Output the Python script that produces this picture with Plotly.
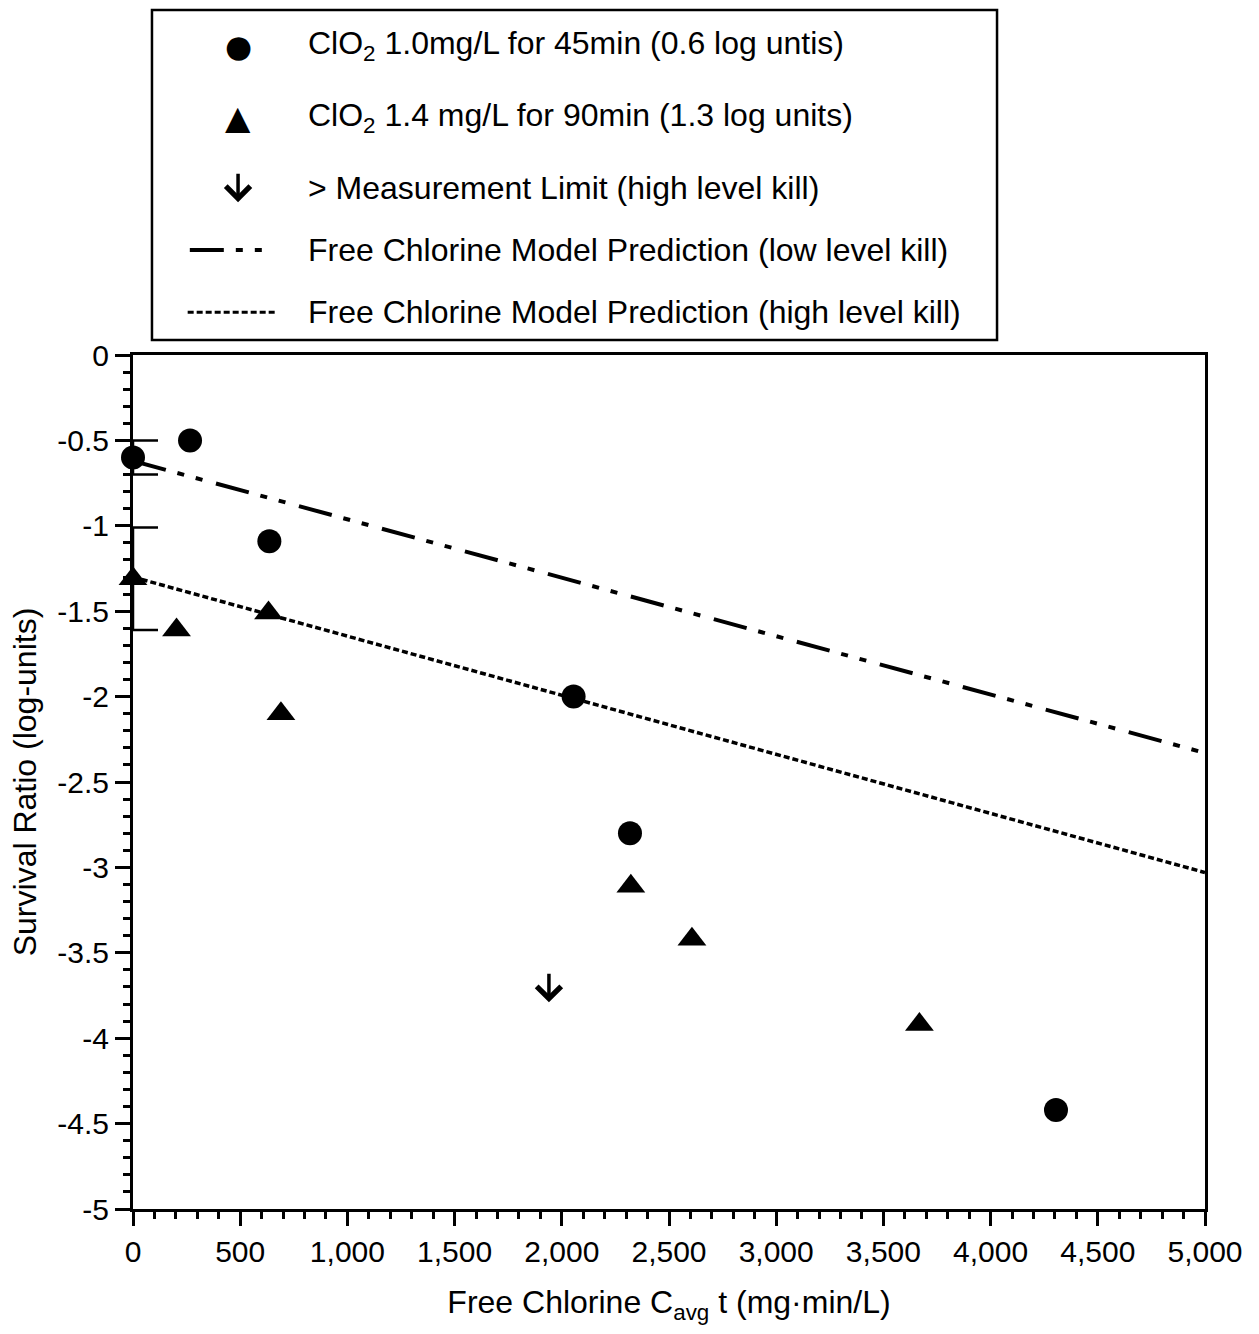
import plotly.graph_objects as go

# ---- data -----------------------------------------------------------------
# ClO2 1.0 mg/L for 45 min (0.6 log units)
clo2_a_ct = [0, 266, 636, 2055, 2318, 4305]
clo2_a_log = [-0.6, -0.5, -1.09, -2.0, -2.8, -4.42]
clo2_a_start_err = 0.1   # spread of the starting (x = 0) value

# ClO2 1.4 mg/L for 90 min (1.3 log units)
clo2_b_ct = [0, 203, 632, 690, 2322, 2607, 3668]
clo2_b_log = [-1.31, -1.61, -1.51, -2.1, -3.11, -3.42, -3.92]
clo2_b_start_err = 0.3

# beyond the measurement limit (high level kill): arrow tip
limit_ct = [1940]
limit_log = [-3.79]

# free chlorine model predictions
low_kill_ct = [0, 5000]
low_kill_log = [-0.62, -2.33]
high_kill_ct = [0, 5000]
high_kill_log = [-1.3, -3.03]

# axis ticks
x_tickvals = [0, 500, 1000, 1500, 2000, 2500, 3000, 3500, 4000, 4500, 5000]
x_ticktext = ["0", "500", "1,000", "1,500", "2,000", "2,500", "3,000",
              "3,500", "4,000", "4,500", "5,000"]
y_tickvals = [0, -0.5, -1, -1.5, -2, -2.5, -3, -3.5, -4, -4.5, -5]
y_ticktext = ["0", "-0.5", "-1", "-1.5", "-2", "-2.5", "-3", "-3.5", "-4",
              "-4.5", "-5"]

# legend labels
legend_labels = [
    "ClO<sub>2</sub> 1.0mg/L for 45min (0.6 log untis)",
    "ClO<sub>2</sub> 1.4 mg/L for 90min (1.3 log units)",
    "> Measurement Limit (high level kill)",
    "Free Chlorine Model Prediction (low level kill)",
    "Free Chlorine Model Prediction (high level kill)",
]

FONT = "Liberation Sans, Arial, sans-serif"
DASHDOT = "34px,12px,7px,12px,7px,14px"
DOTTED = "6px,3px"

fig = go.Figure()

# model prediction lines
fig.add_trace(go.Scatter(
    x=low_kill_ct, y=low_kill_log, mode="lines",
    line=dict(color="black", width=4, dash=DASHDOT),
    showlegend=False, cliponaxis=False))
fig.add_trace(go.Scatter(
    x=high_kill_ct, y=high_kill_log, mode="lines",
    line=dict(color="black", width=3.5, dash=DOTTED),
    showlegend=False, cliponaxis=False))

# spread of the two starting values (drawn along the y axis)
for ct, lg, err in [(clo2_a_ct[0], clo2_a_log[0], clo2_a_start_err),
                    (clo2_b_ct[0], clo2_b_log[0], clo2_b_start_err)]:
    fig.add_trace(go.Scatter(
        x=[ct], y=[lg], mode="markers",
        marker=dict(size=1, color="rgba(0,0,0,0)"),
        error_y=dict(type="data", array=[err], symmetric=True,
                     color="black", thickness=2.5, width=25),
        showlegend=False, cliponaxis=False, hoverinfo="skip"))

# measured survival ratios
fig.add_trace(go.Scatter(
    x=clo2_a_ct, y=clo2_a_log, mode="markers",
    marker=dict(symbol="circle", size=24, color="black"),
    showlegend=False, cliponaxis=False))
fig.add_trace(go.Scatter(
    x=clo2_b_ct, y=clo2_b_log, mode="markers",
    marker=dict(symbol="triangle-up", size=25, color="black"),
    showlegend=False, cliponaxis=False))

ARROW = dict(showarrow=True, arrowhead=4, arrowsize=1.35, arrowwidth=3.5,
             arrowcolor="black", ax=0, ay=-30, text="")

annotations = []
# measurement-limit arrows on the data scale
for ct, lg in zip(limit_ct, limit_log):
    annotations.append(dict(x=ct, y=lg, xref="x", yref="y", **ARROW))

# ---- legend box (paper coordinates over the plot area) ---------------------
row_y = [1.362, 1.278, 1.196, 1.123, 1.050]
key_x = 0.098
label_x = 0.161

shapes = [
    dict(type="rect", xref="paper", yref="paper",
         x0=0.0177, x1=0.806, y0=1.0176, y1=1.404,
         line=dict(color="black", width=2.5), fillcolor="white", layer="below"),
    dict(type="line", xref="paper", yref="paper",
         x0=0.053, x1=0.121, y0=row_y[3], y1=row_y[3],
         line=dict(color="black", width=4, dash=DASHDOT)),
    dict(type="line", xref="paper", yref="paper",
         x0=0.051, x1=0.134, y0=row_y[4], y1=row_y[4],
         line=dict(color="black", width=3, dash=DOTTED)),
]

for glyph, yv, size in zip(["●", "▲"], row_y[:2], [31, 33]):
    annotations.append(dict(
        x=key_x, y=yv, xref="paper", yref="paper", text=glyph,
        showarrow=False, xanchor="center", yanchor="middle",
        font=dict(family="DejaVu Sans", size=size, color="black")))
annotations.append(dict(x=key_x, y=row_y[2] - 0.017, xref="paper",
                        yref="paper", **ARROW))
for label, yv in zip(legend_labels, row_y):
    annotations.append(dict(
        x=label_x, y=yv, xref="paper", yref="paper", text=label,
        showarrow=False, xanchor="left", yanchor="middle",
        font=dict(family=FONT, size=32, color="black")))

axis_common = dict(
    showline=True, linecolor="black", linewidth=3, mirror=True,
    ticks="outside", tickcolor="black", tickwidth=3,
    showgrid=False, zeroline=False,
    tickfont=dict(family=FONT, size=30, color="black"),
)

fig.update_layout(
    width=1259, height=1334,
    margin=dict(l=133, r=54, t=355, b=125, autoexpand=False),
    paper_bgcolor="white", plot_bgcolor="white",
    font=dict(family=FONT, color="black"),
    shapes=shapes, annotations=annotations,
    xaxis=dict(
        range=[0, 5000], tickvals=x_tickvals, ticktext=x_ticktext,
        ticklen=14,
        minor=dict(dtick=100, tick0=0, ticks="outside", ticklen=7,
                   tickwidth=2.5, tickcolor="black", showgrid=False),
        title=dict(text="Free Chlorine C<sub>avg</sub> t (mg·min/L)",
                   font=dict(family=FONT, size=32, color="black"),
                   standoff=24),
        **axis_common),
    yaxis=dict(
        range=[-5, 0], tickvals=y_tickvals, ticktext=y_ticktext,
        ticklen=15,
        minor=dict(dtick=0.1, tick0=0, ticks="outside", ticklen=7,
                   tickwidth=2.5, tickcolor="black", showgrid=False),
        title=dict(text="Survival Ratio (log-units)",
                   font=dict(family=FONT, size=32, color="black"),
                   standoff=12),
        **axis_common),
)

fig.write_html("out.html")
